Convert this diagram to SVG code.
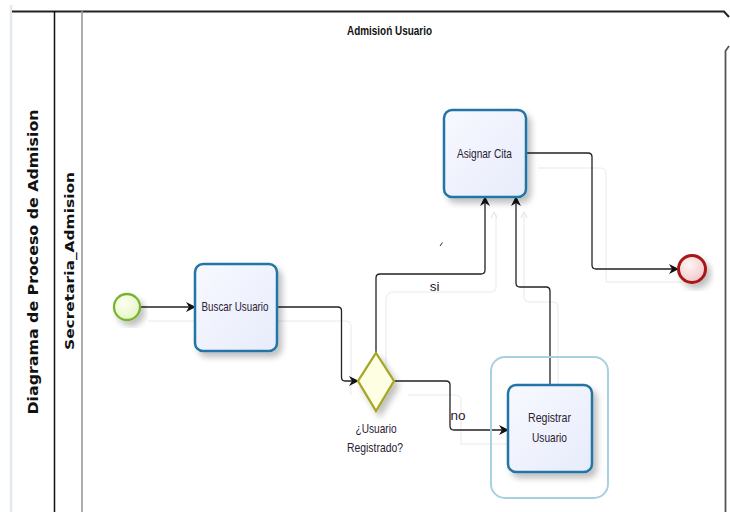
<svg xmlns="http://www.w3.org/2000/svg" width="730" height="512" viewBox="0 0 730 512">
<style>
.lbl{font-family:"Liberation Sans",Arial,sans-serif;font-size:13.5px;fill:#2a2030;text-anchor:middle}
.pool{font-family:"DejaVu Sans",Verdana,sans-serif;font-weight:bold;fill:#111;text-anchor:middle}
.task{fill:url(#tg);stroke:#2274a5;stroke-width:2.5}
.flow{fill:none;stroke:#222;stroke-width:1.3}
.ghost{fill:none;stroke:#f1f1f1;stroke-width:1.5}
</style>
<defs>
<linearGradient id="tg" x1="0" y1="0" x2="1" y2="1">
<stop offset="0" stop-color="#f8f9ff"/><stop offset="1" stop-color="#e7ecfb"/>
</linearGradient>
<radialGradient id="sg" cx="0.4" cy="0.35" r="0.7">
<stop offset="0" stop-color="#fbffef"/><stop offset="1" stop-color="#e6f5c4"/>
</radialGradient>
<radialGradient id="eg" cx="0.4" cy="0.35" r="0.7">
<stop offset="0" stop-color="#fff4f4"/><stop offset="1" stop-color="#f1c6c8"/>
</radialGradient>
<filter id="sh" x="-20%" y="-20%" width="150%" height="150%">
<feGaussianBlur in="SourceAlpha" stdDeviation="3"/>
<feOffset dx="4" dy="5" result="b"/>
<feComponentTransfer><feFuncA type="linear" slope="0.25"/></feComponentTransfer>
<feMerge><feMergeNode/><feMergeNode in="SourceGraphic"/></feMerge>
</filter>
<marker id="ar" viewBox="0 0 10 10" refX="9" refY="5" markerWidth="10" markerHeight="10" markerUnits="userSpaceOnUse" orient="auto">
<path d="M0,0 L10,5 L0,10 L3,5 Z" fill="#111"/>
</marker>
</defs>
<rect width="730" height="512" fill="#fff"/>

<g id="pool">
<line x1="11" y1="5" x2="11" y2="512" stroke="#e3e7f0" stroke-width="2.5"/>
<path d="M12,11.5 H724 L729,17" fill="none" stroke="#222" stroke-width="2"/>
<path d="M729,46 L725.5,51 V512" fill="none" stroke="#555" stroke-width="1.8"/>
<line x1="54.5" y1="11" x2="54.5" y2="512" stroke="#111" stroke-width="1.5"/>
<line x1="82" y1="11" x2="82" y2="512" stroke="#999" stroke-width="1.6"/>
<text class="pool" font-size="14" transform="translate(38,262) rotate(-90)" textLength="305" lengthAdjust="spacingAndGlyphs">Diagrama de Proceso de Admision</text>
<text class="pool" font-size="13" transform="translate(74,261) rotate(-90)" textLength="178" lengthAdjust="spacingAndGlyphs">Secretaria_Admision</text>
<text font-family="'Liberation Sans',Arial,sans-serif" font-weight="bold" font-size="13" fill="#111" x="389.5" y="35" text-anchor="middle" textLength="85" lengthAdjust="spacingAndGlyphs">Admisioń Usuario</text>
</g>

<g id="ghosts">
<path class="ghost" d="M148,321 H345 Q351,321 351,327 V395"/>
<path class="ghost" d="M386,367 V300 Q386,292 394,292 H490 Q496,292 496,286 V215"/>
<path class="ghost" d="M408,395 H455 Q461,395 461,401 V444 H510"/>
<path class="ghost" d="M558,398 V308 Q558,302 552,302 H530 Q524,302 524,296 V215"/>
<path class="ghost" d="M538,168 H600 Q606,168 606,174 V282 H682"/>
<path d="M491,218 L494,212 L497,218 M521,218 L524,212 L527,218" fill="none" stroke="#e6e6e6" stroke-width="1.2"/>
<line x1="440" y1="246" x2="442.5" y2="242.5" stroke="#333" stroke-width="1"/>
</g>

<g id="connectors">
<line class="flow" x1="140" y1="307" x2="195" y2="307" marker-end="url(#ar)"/>
<path class="flow" d="M277,307 H338 Q341.5,307 341.5,311 V377 Q341.5,381 345,381 H358" marker-end="url(#ar)"/>
<path class="flow" d="M376,353 V278 Q376,274 380,274 H481 Q485,274 485,270 V197" marker-end="url(#ar)"/>
<path class="flow" d="M394,381 H446 Q450,381 450,385 V426 Q450,430 454,430 H508" marker-end="url(#ar)"/>
<path class="flow" d="M550,385 V291 Q550,287 546,287 H520 Q516,287 516,283 V197" marker-end="url(#ar)"/>
<path class="flow" d="M526,153 H588 Q592,153 592,157 V265 Q592,269 596,269 H678" marker-end="url(#ar)"/>
<text class="lbl" x="434.5" y="291">si</text>
<text class="lbl" x="458" y="420">no</text>
</g>

<g id="start">
<circle cx="127" cy="307" r="13" fill="url(#sg)" stroke="#77b52e" stroke-width="2.3" filter="url(#sh)"/>
</g>

<g id="buscar">
<rect class="task" x="195" y="264" width="82" height="87" rx="8" filter="url(#sh)"/>
<text class="lbl" x="235" y="311" textLength="67" lengthAdjust="spacingAndGlyphs">Buscar Usuario</text>
</g>

<g id="gateway">
<polygon points="376,353 394,381 376,411 358,381" fill="#fefee2" stroke="#a6a626" stroke-width="2.3" filter="url(#sh)"/>
<text class="lbl" x="376" y="433" textLength="41" lengthAdjust="spacingAndGlyphs">¿Usuario</text>
<text class="lbl" x="375" y="452" textLength="56" lengthAdjust="spacingAndGlyphs">Registrado?</text>
</g>

<g id="asignar">
<rect class="task" x="444" y="110" width="82" height="87" rx="8" filter="url(#sh)"/>
<text class="lbl" x="484.5" y="158" textLength="55" lengthAdjust="spacingAndGlyphs">Asignar Cita</text>
</g>

<g id="registrar">
<rect x="491" y="357" width="117" height="141" rx="14" fill="none" stroke="#a9d0e1" stroke-width="2"/>
<rect class="task" x="508" y="385" width="84" height="87" rx="8" filter="url(#sh)"/>
<text class="lbl" x="549.5" y="422" textLength="43" lengthAdjust="spacingAndGlyphs">Registrar</text>
<text class="lbl" x="549.5" y="442" textLength="35" lengthAdjust="spacingAndGlyphs">Usuario</text>
</g>

<g id="end">
<circle cx="692" cy="269" r="13.5" fill="url(#eg)" stroke="#a81418" stroke-width="3" filter="url(#sh)"/>
</g>
</svg>
